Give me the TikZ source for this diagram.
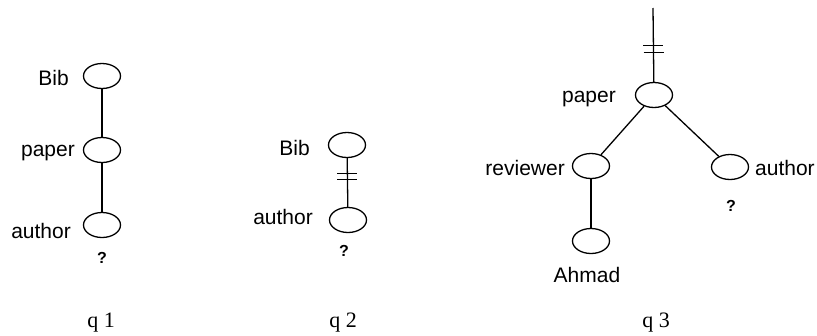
\documentclass[tikz,border=0pt]{standalone}
\usepackage{fontspec}
\setmainfont{Liberation Sans}
\newfontfamily\qfont{Liberation Serif}
\usetikzlibrary{shapes.geometric,calc}

\tikzset{
  elem/.style={draw, ellipse, line width=1.3pt, minimum width=37pt, minimum height=25pt, inner sep=0pt},
  edge/.style={line width=1.3pt},
  barline/.style={line width=1.3pt},
  lbl/.style={inner sep=0pt, font=\fontsize{21}{25}\selectfont},
  qmark/.style={inner sep=0pt, font=\fontsize{16}{19}\selectfont\bfseries},
  qname/.style={inner sep=0pt, font=\fontsize{22}{26}\selectfont\qfont}
}

\begin{document}
\begin{tikzpicture}[x=1pt, y=-1pt]
\useasboundingbox (0,0) rectangle (817,335);

% ---------------- q1: Bib / paper / author ----------------
\node[elem] (q1bib)    at (102,76)  {};
\node[elem] (q1paper)  at (102,150) {};
\node[elem] (q1author) at (102,225) {};
\draw[edge] (q1bib) -- (q1paper);
\draw[edge] (q1paper) -- (q1author);
\node[lbl, anchor=base east] (q1bibl)    at (69,85)   {Bib};
\node[lbl, anchor=base east] (q1paperl)  at (75,156)  {paper};
\node[lbl, anchor=base east] (q1authorl) at (71,238)  {author};
\node[qmark] (q1q) at (102,258) {?};
\node[qname, anchor=base] (q1name) at (101,327) {q 1};

% ---------------- q2: Bib // author ----------------
\node[elem] (q2bib)    at (347,145) {};
\node[elem] (q2author) at (348,220) {};
\draw[edge] (q2bib) -- (q2author);
\coordinate (q2t1) at ($(q2bib.center)!0.38!(q2author.center)$);
\coordinate (q2t2) at ($(q2bib.center)!0.46!(q2author.center)$);
\draw[barline] ([xshift=-10pt]q2t1) -- ([xshift=10pt]q2t1);
\draw[barline] ([xshift=-10pt]q2t2) -- ([xshift=10pt]q2t2);
\node[lbl, anchor=base east] (q2bibl)    at (310,155) {Bib};
\node[lbl, anchor=base east] (q2authorl) at (313,224) {author};
\node[qmark] (q2q) at (344,251) {?};
\node[qname, anchor=base] (q2name) at (343,327) {q 2};

% ---------------- q3: //paper with reviewer and author ----------------
\coordinate (q3top) at (653,8);
\node[elem] (q3paper)    at (654,95)  {};
\node[elem] (q3reviewer) at (591,166) {};
\node[elem] (q3author)   at (730,167) {};
\node[elem] (q3ahmad)    at (591,241) {};
\draw[edge] (q3top) -- (q3paper);
\coordinate (q3t1) at ($(q3top)!0.435!(q3paper.center)$);
\coordinate (q3t2) at ($(q3top)!0.51!(q3paper.center)$);
\draw[barline] ([xshift=-10pt]q3t1) -- ([xshift=10pt]q3t1);
\draw[barline] ([xshift=-10pt]q3t2) -- ([xshift=10pt]q3t2);
\draw[edge] (q3paper) -- (q3reviewer);
\draw[edge] (q3paper) -- (q3author);
\draw[edge] (q3reviewer) -- (q3ahmad);
\node[lbl, anchor=base east] (q3paperl)    at (616,102) {paper};
\node[lbl, anchor=base east] (q3reviewerl) at (565,175) {reviewer};
\node[lbl, anchor=base west] (q3authorl)   at (755,175) {author};
\node[lbl, anchor=base]      (q3ahmadl)    at (587,282) {Ahmad};
\node[qmark] (q3q) at (731,206) {?};
\node[qname, anchor=base] (q3name) at (656,327) {q 3};
\end{tikzpicture}
\end{document}
